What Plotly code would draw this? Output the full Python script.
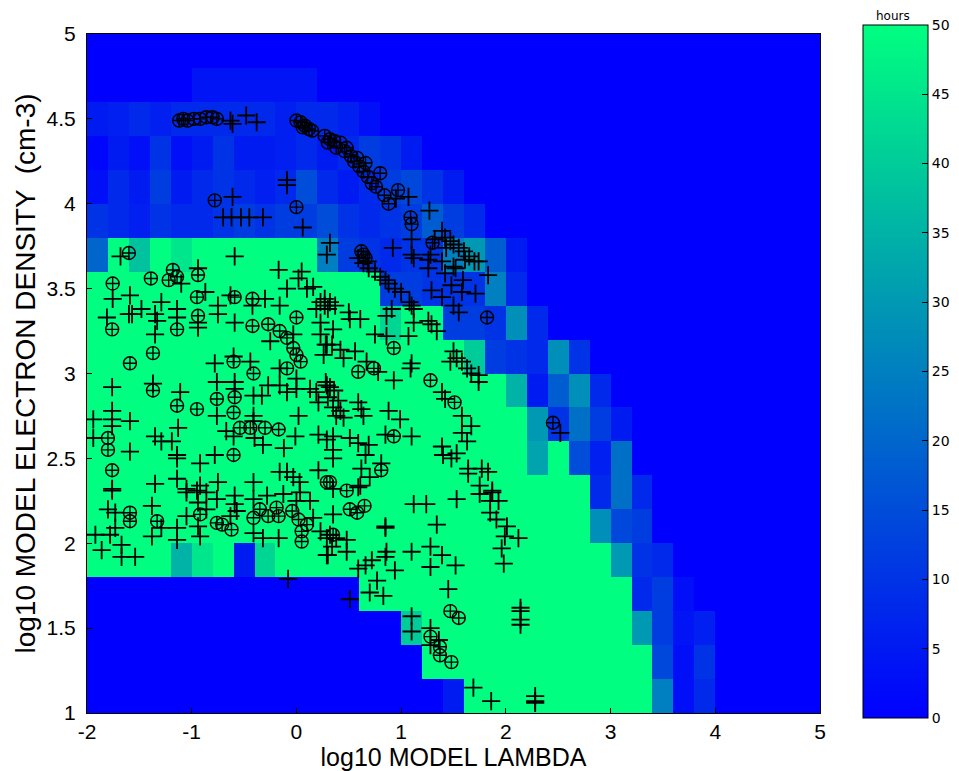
import plotly.graph_objects as go

# ---- grid (cell centres) ----
x_centers = [round(-1.9 + 0.2 * i, 2) for i in range(35)]
y_centers = [round(1.1 + 0.2 * j, 2) for j in range(20)]

def row(spec):
    out = [0] * 35
    for (a, b, v) in spec:
        for c in range(a, b + 1):
            out[c] = v
    return out

# hours per cell, bottom row (y=1.1) first
z_rows = [
    row([(17, 17, 5), (18, 26, 50), (27, 27, 25), (28, 28, 3), (29, 29, 8)]),
    row([(16, 26, 50), (27, 27, 14), (28, 28, 3), (29, 29, 10)]),
    row([(15, 15, 40), (16, 25, 50), (26, 26, 30), (27, 27, 12), (28, 28, 4), (29, 29, 6)]),
    row([(13, 25, 50), (26, 26, 8), (27, 27, 12), (28, 28, 3)]),
    row([(0, 3, 50), (4, 4, 35), (5, 5, 45), (6, 6, 50), (7, 7, 5), (8, 8, 42), (9, 24, 50), (25, 25, 30), (26, 26, 10), (27, 27, 8)]),
    row([(0, 23, 50), (24, 24, 28), (25, 25, 14), (26, 26, 12)]),
    row([(0, 23, 50), (24, 24, 8), (25, 25, 22), (26, 26, 8)]),
    row([(0, 20, 50), (21, 21, 32), (22, 22, 50), (23, 23, 15), (24, 24, 6), (25, 25, 22)]),
    row([(0, 20, 50), (21, 21, 30), (22, 22, 10), (23, 23, 22), (24, 24, 12), (25, 25, 5)]),
    row([(0, 19, 50), (20, 20, 35), (21, 21, 5), (22, 22, 18), (23, 23, 28), (24, 24, 8)]),
    row([(0, 17, 50), (18, 18, 40), (19, 19, 12), (20, 20, 10), (21, 21, 8), (22, 22, 28), (23, 23, 10)]),
    row([(0, 13, 50), (14, 14, 42), (15, 16, 50), (17, 17, 12), (18, 18, 12), (19, 19, 10), (20, 20, 28), (21, 21, 8)]),
    row([(0, 13, 50), (14, 15, 12), (16, 18, 10), (19, 19, 25), (20, 20, 8)]),
    row([(0, 0, 20), (1, 1, 50), (2, 2, 38), (3, 3, 50), (4, 4, 45), (5, 10, 50), (11, 11, 25), (12, 12, 12), (13, 13, 10), (14, 14, 8), (15, 16, 10), (17, 17, 25), (18, 18, 30), (19, 19, 18), (20, 20, 5)]),
    row([(0, 0, 10), (1, 1, 8), (2, 2, 6), (3, 3, 10), (4, 5, 8), (6, 6, 10), (7, 7, 12), (8, 8, 10), (9, 10, 12), (11, 11, 15), (12, 12, 10), (13, 13, 8), (14, 14, 10), (15, 15, 12), (16, 16, 18), (17, 17, 12), (18, 18, 8)]),
    row([(0, 0, 3), (1, 1, 8), (2, 2, 5), (3, 3, 12), (4, 4, 5), (5, 5, 8), (6, 6, 10), (7, 7, 8), (8, 8, 6), (9, 9, 8), (10, 10, 15), (11, 11, 8), (12, 12, 5), (13, 13, 8), (14, 14, 12), (15, 15, 14), (16, 16, 10), (17, 17, 5)]),
    row([(0, 0, 1), (1, 1, 5), (2, 2, 3), (3, 3, 10), (4, 4, 3), (5, 5, 5), (6, 6, 10), (7, 8, 5), (9, 9, 6), (10, 10, 8), (11, 11, 5), (12, 12, 8), (13, 13, 12), (14, 14, 10), (15, 15, 5)]),
    row([(0, 0, 5), (1, 1, 6), (2, 2, 8), (3, 3, 6), (4, 8, 8), (9, 9, 6), (10, 11, 8), (12, 12, 6), (13, 13, 3)]),
    row([(5, 10, 4)]),
    row([]),
]

# ---- '+' markers ----
plus_pts = [
    (-0.63,4.49), (-0.61,4.47), (-0.48,4.52), (-0.38,4.48),
    (-0.61,4.04), (-0.70,3.92), (-0.62,3.92), (-0.53,3.92), (-0.45,3.92), (-0.32,3.92), (-0.09,4.14), (-0.09,4.11), (0.06,3.86), (-1.68,3.69), (-0.59,3.69),
    (0.95,4.03), (1.07,4.04), (1.27,3.96), (1.10,3.79), (1.10,3.70), (0.92,3.74), (1.28,3.70), (1.39,3.84), (1.42,3.80), (1.47,3.78), (1.50,3.76), (1.55,3.74), (1.60,3.72), (1.65,3.69), (1.70,3.66), (1.43,3.74), (0.32,3.77), (0.29,3.70), (0.68,3.66), (1.32,3.79),
    (-0.94,3.62), (-1.10,3.53), (-0.17,3.61), (0.05,3.60), (0.02,3.56), (-0.09,3.50), (0.10,3.50), (0.16,3.51), (0.23,3.42), (0.27,3.40), (0.30,3.38),
    (-1.755,3.44), (-1.59,3.46), (-1.29,3.42), (-1.48,3.38), (-1.60,3.35), (-1.57,3.35), (-1.35,3.35), (-1.33,3.31), (-1.14,3.38), (-1.14,3.33), (-1.81,3.33), (-1.35,3.23),
    (-0.87,3.48), (-0.94,3.30), (-0.94,3.27), (-0.75,3.40), (-0.75,3.35),
    (-0.63,3.46), (-0.42,3.40), (-0.30,3.44), (-0.16,3.40), (-0.59,3.30),
    (-0.25,3.19), (-0.03,3.23), (0.19,3.38), (0.23,3.30), (0.23,3.23), (0.29,3.17), (0.26,3.11),
    (-0.78,3.06), (-0.44,3.07), (-0.60,3.10),
    (-0.76,2.95), (-0.59,2.95), (-0.59,2.91), (-0.41,2.87), (-0.33,2.87), (-0.27,2.93), (-0.16,2.93), (-0.09,2.89), (0.0,2.91), (0.13,2.91), (0.19,2.89), (0.29,2.93), (-0.16,3.03), (0.0,2.97), (0.21,2.83),
    (-1.76,2.92), (-1.37,2.94), (-1.11,2.89), (-0.76,2.75), (-0.41,2.75), (-0.41,2.72),
    (-1.94,2.73), (-1.76,2.78), (-1.76,2.73), (-1.76,2.69), (-1.59,2.72), (-1.94,2.62), (-1.76,2.32), (-1.59,2.54),
    (-1.35,2.63), (-1.29,2.60), (-1.19,2.60), (-1.13,2.68), (-1.14,2.52), (-1.14,2.50), (-1.35,2.35), (-1.14,2.38), (-1.05,2.32), (-0.92,2.47), (-0.78,2.52),
    (-0.60,2.63), (-0.67,2.66), (-0.40,2.62), (-0.32,2.58), (-0.12,2.56), (-0.01,2.63), (0.21,2.64), (0.02,2.75), (0.29,2.61), (-0.41,2.36), (-0.16,2.42), (-0.09,2.42), (-0.03,2.39), (0.03,2.36), (0.21,2.43), (-0.92,2.34), (-0.75,2.36),
    (-1.76,2.31), (-1.05,2.30), (-0.95,2.31), (-0.86,2.30), (-0.76,2.26), (-0.59,2.28), (-0.59,2.23), (-0.41,2.26), (-0.28,2.28), (-0.125,2.29), (0.035,2.30), (0.13,2.25), (0.0,2.25),
    (-1.80,2.20), (-1.73,2.18), (-1.92,2.05), (-1.78,2.05), (-1.73,2.09), (-1.86,1.96), (-1.67,1.99), (-1.67,1.92), (-1.54,1.92),
    (-1.38,2.22), (-1.38,2.04), (-1.29,2.09), (-1.14,2.09), (-1.14,2.02), (-1.05,2.16), (-0.94,2.24), (-0.94,2.10), (-0.92,2.04), (-0.86,2.20), (-0.63,2.16), (-0.57,2.19),
    (-0.41,2.06), (-0.32,2.03), (-0.17,2.03), (0.16,2.15), (0.23,2.07), (0.29,2.03), (0.29,1.93), (-0.08,1.79),
    (0.35,2.32), (0.59,2.33), (0.35,2.17), (0.32,2.05), (0.38,2.03), (0.48,2.02), (0.48,1.95), (0.30,1.93), (0.34,1.98),
    (0.85,2.09), (0.85,2.10), (1.12,2.23), (1.24,2.23), (1.53,2.26), (1.34,2.11), (1.75,2.29), (1.87,2.31), (1.85,2.25), (1.93,2.25), (1.85,2.18), (1.91,2.14), (2.01,2.10), (1.99,2.04), (2.12,2.03), (1.96,1.97), (1.98,1.88),
    (0.72,1.90), (0.66,1.87), (0.59,1.85), (0.85,1.92), (0.86,1.95), (0.94,1.84), (1.10,1.95), (1.28,1.98), (1.39,1.93), (1.28,1.86), (1.52,1.87), (0.77,1.78), (0.70,1.71), (0.83,1.69), (0.51,1.67), (1.45,1.73),
    (1.10,1.57), (1.10,1.48), (1.28,1.50), (1.36,1.43), (1.28,1.40), (2.14,1.62), (2.14,1.60), (2.14,1.55), (2.14,1.52), (1.69,1.15), (1.86,1.07), (2.28,1.10), (2.28,1.07), (2.28,1.06),
    (1.12,3.68), (1.26,3.67), (1.26,3.62), (1.39,3.66), (1.42,3.59), (1.50,3.63), (1.52,3.62), (1.61,3.67), (1.74,3.66), (1.83,3.58), (1.59,3.55), (1.48,3.52), (1.58,3.48), (1.71,3.47), (1.39,3.45), (1.50,3.40), (1.55,3.36), (1.29,3.49),
    (0.59,3.68), (0.64,3.65), (0.69,3.62), (0.75,3.60), (0.80,3.57), (0.85,3.55), (0.88,3.53), (0.94,3.50), (1.0,3.48), (1.08,3.42), (1.10,3.40), (1.12,3.38), (1.12,3.30), (0.91,3.38), (0.86,3.34),
    (1.26,3.31), (1.29,3.29), (1.34,3.25),
    (0.27,3.44), (0.32,3.42), (0.37,3.40), (0.50,3.36), (0.51,3.32), (0.61,3.32), (0.35,3.26), (0.75,3.23), (0.86,3.22), (1.07,3.22), (0.28,3.17), (0.34,3.17), (0.42,3.14), (0.56,3.13), (0.45,3.09), (0.67,3.07), (0.78,3.01), (0.93,2.96), (1.10,3.06), (1.09,3.03),
    (1.50,3.13), (1.53,3.09), (1.47,3.07), (1.58,3.07), (1.63,3.03), (1.67,3.00), (1.74,2.95), (1.74,2.99),
    (1.39,2.89), (1.42,2.85), (1.58,2.75), (1.67,2.69), (1.58,2.65), (1.63,2.60), (1.39,2.57), (1.40,2.52), (1.48,2.50), (1.53,2.53), (1.64,2.44), (1.64,2.41), (1.77,2.44), (1.83,2.42), (1.75,2.34), (1.87,2.30),
    (2.52,2.65), (0.88,2.78), (0.99,2.73), (0.85,2.64), (1.10,2.63),
    (0.28,2.95), (0.32,2.92), (0.36,2.90), (0.30,2.86), (0.40,2.84), (0.35,2.80), (0.42,2.78), (0.45,2.74), (0.38,2.75),
    (0.59,2.83), (0.64,2.75), (0.62,2.79), (0.35,2.63), (0.35,2.55), (0.35,2.50), (0.51,2.62), (0.59,2.59), (0.69,2.58), (0.66,2.52), (0.62,2.44), (0.70,2.39), (0.81,2.47), (0.61,2.34),
]

# ---- circled-plus markers ----
circ_pts = [
    (-1.12,4.49), (-1.08,4.50), (-1.04,4.49), (-0.98,4.50), (-0.92,4.50), (-0.86,4.51), (-0.80,4.51), (-0.76,4.50),
    (0.0,4.49), (0.04,4.48), (0.08,4.46), (0.12,4.44), (0.06,4.45), (0.15,4.43), (0.27,4.40), (0.30,4.36), (0.32,4.38), (0.36,4.37), (0.42,4.36), (0.38,4.33), (0.46,4.31), (0.48,4.33), (0.52,4.28), (0.55,4.25), (0.58,4.27), (0.60,4.22), (0.64,4.19), (0.66,4.24), (0.68,4.16), (0.72,4.12), (0.76,4.10), (0.80,4.18), (0.84,4.05), (0.88,4.00), (0.97,4.08), (1.09,3.92), (1.10,3.88), (1.30,3.77), (0.62,3.72), (0.64,3.70), (0.66,3.68),
    (-0.78,4.02), (0.0,3.98), (-1.60,3.71),
    (-0.94,3.58), (-1.18,3.61), (-1.22,3.55), (-1.14,3.57), (-1.755,3.53), (-1.39,3.56), (-1.14,3.26), (-1.76,3.26), (-0.95,3.45), (-0.94,3.34), (-0.59,3.45), (-0.42,3.44), (-0.42,3.28), (-0.27,3.29), (-0.16,3.25), (-0.09,3.21), (-0.03,3.15), (0.0,3.11), (0.04,3.07), (0.0,3.33), (-1.37,3.12), (-1.59,3.06), (-0.60,3.07), (-0.41,3.00), (-0.59,2.86), (-0.76,2.85), (-0.09,3.03), (-1.37,2.90), (-1.14,2.81), (-0.95,2.79), (-0.60,2.77), (-1.80,2.62), (-1.80,2.55), (-1.76,2.43), (-0.60,2.52), (-0.54,2.68), (-0.44,2.68), (-0.30,2.68), (-0.17,2.67), (0.29,2.36),
    (-1.59,2.18), (-1.59,2.13), (-1.33,2.13), (-0.92,2.17), (-0.76,2.12), (-0.71,2.11), (-0.62,2.08), (-0.41,2.15), (-0.35,2.20), (-0.27,2.16), (-0.19,2.21), (-0.17,2.16), (-0.04,2.19), (0.02,2.14), (0.05,2.07), (0.05,2.01), (0.10,2.11),
    (0.48,2.31), (0.51,2.20), (0.58,2.18), (0.65,2.22), (0.35,2.05), (1.47,1.60), (1.55,1.56), (1.28,1.45), (1.37,1.39), (1.37,1.34), (1.48,1.30),
    (1.82,3.33), (0.93,3.15), (0.59,3.01), (0.74,3.03), (1.28,2.96), (1.51,2.83), (0.93,2.63), (0.81,2.43), (0.32,2.36), (2.45,2.71),
]

x_plus = [p[0] for p in plus_pts]
y_plus = [p[1] for p in plus_pts]
x_circ = [p[0] for p in circ_pts]
y_circ = [p[1] for p in circ_pts]

x_ticks = [-2, -1, 0, 1, 2, 3, 4, 5]
x_tick_labels = ["-2", "-1", "0", "1", "2", "3", "4", "5"]
y_ticks = [1, 1.5, 2, 2.5, 3, 3.5, 4, 4.5, 5]
y_tick_labels = ["1", "1.5", "2", "2.5", "3", "3.5", "4", "4.5", "5"]
cbar_ticks = list(range(0, 51, 5))

winter = [[0.0, "rgb(0,0,255)"], [1.0, "rgb(0,255,128)"]]

fig = go.Figure()
fig.add_trace(go.Heatmap(
    x=x_centers, y=y_centers, z=z_rows, zmin=0, zmax=50,
    colorscale=winter, hoverinfo="skip",
    colorbar=dict(
        thickness=65, thicknessmode="pixels",
        len=693, lenmode="pixels",
        x=1.0587, xanchor="left", xpad=0,
        y=0.503, yanchor="middle", ypad=0,
        outlinecolor="black", outlinewidth=1,
        tickvals=cbar_ticks, ticks="inside", ticklen=6, tickcolor="black",
        tickfont=dict(family="DejaVu Sans", size=14, color="black"),
    ),
))
fig.add_trace(go.Scatter(
    x=x_plus, y=y_plus, mode="markers",
    marker=dict(symbol="cross-thin", size=13, color="black",
                line=dict(color="black", width=1.8)),
    showlegend=False, hoverinfo="skip",
))
fig.add_trace(go.Scatter(
    x=x_circ, y=y_circ, mode="markers",
    marker=dict(symbol="circle-cross-open", size=13, color="black",
                line=dict(color="black", width=1.4)),
    showlegend=False, hoverinfo="skip",
))

tick_font = dict(family="Liberation Sans, Arial, sans-serif", size=21, color="black")
xtitle_font = dict(family="Liberation Sans, Arial, sans-serif", size=25, color="black")
ytitle_font = dict(family="Liberation Sans, Arial, sans-serif", size=28, color="black")
fig.update_layout(
    width=951, height=763,
    margin=dict(l=79, r=139, t=26, b=58, autoexpand=False),
    paper_bgcolor="white", plot_bgcolor="white",
    showlegend=False,
    xaxis=dict(range=[-2, 5], tickvals=x_ticks, ticktext=x_tick_labels, ticks="inside", ticklen=5,
               tickcolor="black", showline=True, linecolor="black", linewidth=1,
               mirror=True, showgrid=False, zeroline=False, tickfont=tick_font,
               title=dict(text="log10 MODEL LAMBDA", font=xtitle_font, standoff=0)),
    yaxis=dict(range=[1, 5], tickvals=y_ticks, ticktext=y_tick_labels, ticks="inside",
               ticklen=5, tickcolor="black", showline=True, linecolor="black",
               linewidth=1, mirror=True, showgrid=False, zeroline=False,
               tickfont=tick_font, ticklabelstandoff=6,
               title=dict(text="log10 MODEL ELECTRON DENSITY  (cm-3)", font=ytitle_font, standoff=2)),
    annotations=[dict(text="hours", xref="paper", yref="paper", x=1.0996, y=1.0265,
                      showarrow=False, xanchor="center", yanchor="middle",
                      font=dict(family="DejaVu Sans", size=12, color="black"))],
)

fig.write_html("out.html")
